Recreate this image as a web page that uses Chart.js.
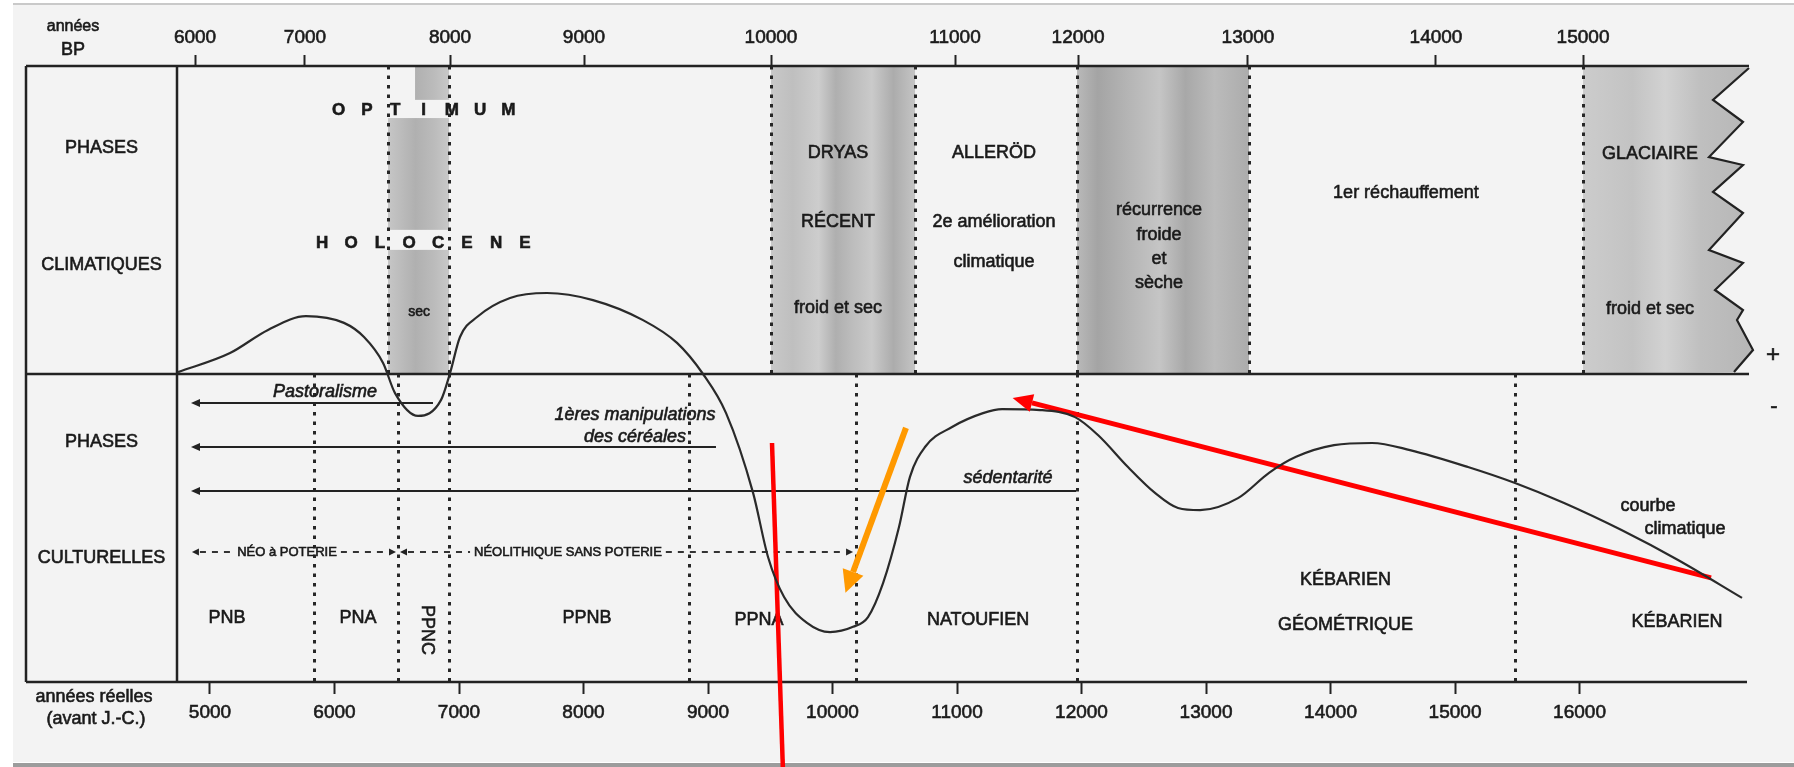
<!DOCTYPE html>
<html><head><meta charset="utf-8">
<script src="https://cdn.jsdelivr.net/npm/chart.js@4.4.1/dist/chart.umd.min.js"></script>
<style>
html,body{margin:0;padding:0;background:#fff;overflow:hidden;}
canvas{display:block;}
</style></head>
<body>
<canvas id="c" width="1794" height="767"></canvas>
<script>
// ---------------- DATA ----------------
// bottom axis: calendar years (avant J.-C.)
const calendarTicks = [5000, 6000, 7000, 8000, 9000, 10000, 11000, 12000, 13000, 14000, 15000, 16000];
// top axis: radiocarbon years BP and the calendar year each tick sits on
const bpTickLabels = ['6000', '7000', '8000', '9000', '10000', '11000', '12000', '13000', '14000', '15000'];
const bpTickCalendar = [4880, 5763, 6928, 8004, 9506, 10984, 11972, 13337, 14847, 16028];

// climatic curve (+ = above the middle line, - = below)
const climateYears = [4743, 5161, 5466, 5771, 6076, 6237, 6390, 6486, 6671, 6856, 6928, 7008, 7145, 7410, 7707, 8076, 8478, 8751, 8960,
  9145, 9362, 9482, 9611, 9795, 9980, 10165, 10285, 10406, 10534, 10622, 10743, 10960, 11209, 11362, 11667, 11948,
  12132, 12373, 12590, 12775, 12952, 13257, 13506, 13723, 14028, 14333, 14638, 15104, 15482, 15876, 16333, 16791, 17305];
const climateValues = [0.06, 0.68, 1.43, 1.88, 1.66, 1.20, 0.36, -0.62, -1.36, -0.84, 0.03, 1.20, 1.85, 2.47, 2.63, 2.40, 1.75, 1.01, 0,
  -1.27, -3.86, -5.94, -7.24, -8.08, -8.38, -8.21, -7.89, -6.79, -4.97, -3.34, -2.37, -1.72, -1.27, -1.14, -1.17, -1.40,
  -1.98, -3.02, -3.86, -4.35, -4.42, -4.03, -3.21, -2.69, -2.31, -2.24, -2.47, -3.02, -3.54, -4.19, -5.06, -6.04, -7.27];

// climatic phase boundaries (upper panel) and cultural boundaries (lower panel)
const climateBoundaries = [6430, 6920, 9506, 10663, 11964, 13345, 16028];
const culturalBoundaries = [5835, 6510, 6920, 8847, 10189, 11964, 15482];

// shaded (cold / dry) climatic phases
const coldPhaseStarts = [9506, 11964, 16028];
const coldPhaseEnds = [10663, 13345, null];
const dryHoloceneStart = 6430;
const dryHoloceneEnd = 6920;

// climatic phase texts
const climatePhaseNames = [['DRYAS', 'RÉCENT', 'froid et sec'], ['ALLERÖD', '2e amélioration', 'climatique'],
  ['récurrence', 'froide', 'et', 'sèche'], ['1er réchauffement'], ['GLACIAIRE', 'froid et sec']];
const climatePhaseCenters = [10044, 11297, 12622, 14606, 16566];

// cultural phases (arrows running back to the present) and their end year
const phaseArrowNames = ['Pastoralisme', '1ères manipulations|des céréales', 'sédentarité'];
const phaseArrowEnds = [6791, 9064, 11956];

// Neolithic with / without pottery
const potteryNames = ['NÉO à POTERIE', 'NÉOLITHIQUE SANS POTERIE'];
const potteryStarts = [4855, 6526];
const potteryEnds = [6494, 10165];
const potteryTextCenters = [5619, 7875];

// cultural periods
const periodNames = ['PNB', 'PNA', 'PPNC', 'PPNB', 'PPNA', 'NATOUFIEN', 'KÉBARIEN|GÉOMÉTRIQUE', 'KÉBARIEN'];
const periodCenters = [5137, 6189, 6743, 8028, 9410, 11169, 14120, 16783];

// later hand-drawn annotations (red and orange strokes)
const redLineYears = [9514, 9601];
const redLineValues = [-2.24, -12.76];
const orangeArrowYears = [10590, 10165];
const orangeArrowValues = [-1.75, -6.43];
const redArrowYears = [17056, 11602];
const redArrowValues = [-6.62, -0.94];

// ---------------- LAYOUT / STYLE ----------------
const FONT = "'Liberation Sans', Arial, Helvetica, sans-serif";
const INK = '#1a1a1a';
const L = {
  frameLeft: 26,
  optimumV: 8.57, holoceneV: 4.25, secV: 2.01,
  climateLinesV: {0: [7.18, 4.94, 2.14], 1: [7.18, 4.94, 3.64], 2: [5.32, 4.51, 3.73, 2.95], 3: [5.88], 4: [7.14, 2.11]},
  arrowV: [-0.94, -2.37, -3.80],
  arrowTextV: [[-0.58], [-1.33, -2.05], [-3.38]],
  arrowTextX: [5924, 8414, 11410],
  potteryV: -5.78,
  periodV: [-7.92, -7.92, -8.31, -7.92, -7.99, -7.99, [-6.69, -8.15], -8.05],
  courbe: [[16550, -4.29, 'courbe'], [16847, -5.03, 'climatique']]
};
const zig = [[2, 2], [-34, 34], [-4, 56], [-38, 91], [-4, 99], [-34, 126], [-4, 147], [-38, 184], [-4, 197], [-32, 224], [-4, 244], [-10, 254], [6, 284], [-13, 306]];
const bandStripes = [
  [[0, '#c8c8c8'], [0.15, '#bfbfbf'], [0.33, '#cdcdcd'], [0.45, '#afafaf'], [0.56, '#bcbcbc'], [0.7, '#cacaca'], [0.85, '#acacac'], [1, '#c4c4c4']],
  [[0, '#b9b9b9'], [0.12, '#a4a4a4'], [0.3, '#b5b5b5'], [0.48, '#c5c5c5'], [0.63, '#a8a8a8'], [0.8, '#bbbbbb'], [1, '#acacac']],
  [[0, '#cccccc'], [0.3, '#c3c3c3'], [0.5, '#d2d2d2'], [0.72, '#bfbfbf'], [1, '#b7b7b7']]
];

function gradient(ctx, x0, x1, stops) {
  const g = ctx.createLinearGradient(x0, 0, x1, 0);
  stops.forEach(s => g.addColorStop(s[0], s[1]));
  return g;
}
function text(ctx, s, x, y, font, align) {
  ctx.font = font; ctx.textAlign = align || 'center'; ctx.textBaseline = 'middle';
  ctx.fillStyle = INK; ctx.strokeStyle = INK; ctx.lineWidth = 0.6; ctx.setLineDash([]);
  ctx.fillText(s, x, y); ctx.strokeText(s, x, y);
}
function head(ctx, x0, y0, x1, y1, len, hw, color) {
  // arrow head with base centred on (x1,y1), pointing away from (x0,y0)
  const a = Math.atan2(y1 - y0, x1 - x0), c = Math.cos(a), s = Math.sin(a);
  ctx.beginPath();
  ctx.moveTo(x1 + c * len, y1 + s * len);
  ctx.lineTo(x1 - s * hw, y1 + c * hw);
  ctx.lineTo(x1 + s * hw, y1 - c * hw);
  ctx.closePath(); ctx.fillStyle = color; ctx.fill();
}

const decor = {
  id: 'decor',
  beforeDraw(chart) {
    const ctx = chart.ctx, W = chart.width, H = chart.height;
    ctx.save();
    ctx.fillStyle = '#ffffff'; ctx.fillRect(0, 0, W, H);
    ctx.fillStyle = '#f3f3f3'; ctx.fillRect(13, 5, W - 13, H - 10);
    ctx.fillStyle = '#c9c9c9'; ctx.fillRect(13, 3, W - 13, 2);
    ctx.fillStyle = '#9c9c9c'; ctx.fillRect(13, H - 4, W - 13, 4);
    ctx.restore();
  },
  beforeDatasetsDraw(chart) {
    const ctx = chart.ctx, a = chart.chartArea, xs = chart.scales.x, ys = chart.scales.y;
    const X = v => xs.getPixelForValue(v), Y = v => ys.getPixelForValue(v);
    const mid = Y(0);
    ctx.save();
    // cold phases shading
    for (let i = 0; i < coldPhaseStarts.length; i++) {
      const x0 = X(coldPhaseStarts[i]);
      if (coldPhaseEnds[i] !== null) {
        const x1 = X(coldPhaseEnds[i]);
        ctx.fillStyle = gradient(ctx, x0, x1, bandStripes[i]);
        ctx.fillRect(x0, a.top, x1 - x0, mid - a.top);
      } else {
        ctx.beginPath(); ctx.moveTo(x0, a.top);
        zig.forEach(p => ctx.lineTo(a.right + p[0], a.top + p[1]));
        ctx.lineTo(x0, mid); ctx.closePath();
        ctx.fillStyle = gradient(ctx, x0, a.right, bandStripes[i]); ctx.fill();
      }
    }
    // dry holocene band (interrupted by the titles)
    const hx0 = X(dryHoloceneStart), hx1 = X(dryHoloceneEnd);
    ctx.fillStyle = gradient(ctx, hx0, hx1, [[0, '#c6c6c6'], [0.45, '#b0b0b0'], [0.75, '#bbbbbb'], [1, '#c8c8c8']]);
    ctx.fillRect(X(6647), a.top, hx1 - X(6647), Y(8.9) - a.top);
    ctx.fillRect(hx0, Y(8.31), hx1 - hx0, Y(4.68) - Y(8.31));
    ctx.fillRect(hx0, Y(4.03), hx1 - hx0, mid - Y(4.03));

    // dotted boundaries
    ctx.strokeStyle = '#262626'; ctx.lineWidth = 3; ctx.setLineDash([3.5, 6]);
    climateBoundaries.forEach(v => { const x = Math.round(X(v)) + 0.5; ctx.beginPath(); ctx.moveTo(x, a.top); ctx.lineTo(x, mid); ctx.stroke(); });
    culturalBoundaries.forEach(v => { const x = Math.round(X(v)) + 0.5; ctx.beginPath(); ctx.moveTo(x, mid); ctx.lineTo(x, a.bottom); ctx.stroke(); });
    ctx.setLineDash([]);

    // frame
    ctx.strokeStyle = '#222'; ctx.lineWidth = 2.5;
    ctx.beginPath();
    ctx.moveTo(L.frameLeft, a.top); ctx.lineTo(a.right + 2, a.top);
    ctx.moveTo(L.frameLeft, mid); ctx.lineTo(a.right + 2, mid);
    ctx.moveTo(L.frameLeft, a.bottom); ctx.lineTo(a.right, a.bottom);
    ctx.moveTo(L.frameLeft, a.top); ctx.lineTo(L.frameLeft, a.bottom);
    ctx.moveTo(a.left, a.top); ctx.lineTo(a.left, a.bottom);
    ctx.stroke();
    // zigzag edge
    ctx.lineWidth = 2.2; ctx.beginPath();
    zig.forEach((p, i) => i ? ctx.lineTo(a.right + p[0], a.top + p[1]) : ctx.moveTo(a.right + p[0], a.top + p[1]));
    ctx.stroke();

    // left column
    const lc = (L.frameLeft + a.left) / 2;
    text(ctx, 'PHASES', lc, 148, '18px ' + FONT);
    text(ctx, 'CLIMATIQUES', lc, 265, '18px ' + FONT);
    text(ctx, 'PHASES', lc, 442, '18px ' + FONT);
    text(ctx, 'CULTURELLES', lc, 558, '18px ' + FONT);
    text(ctx, 'années', 73, 27, '16px ' + FONT);
    text(ctx, 'BP', 73, 50, '18px ' + FONT);
    text(ctx, 'années réelles', 94, 697, '18px ' + FONT);
    text(ctx, '(avant J.-C.)', 96, 719, '18px ' + FONT);

    // holocene titles (letter-spaced)
    const hc = X(6715);
    'OPTIMUM'.split('').forEach((ch, i) => text(ctx, ch, hc + (i - 3) * 28.3, Y(L.optimumV), 'bold 17px ' + FONT));
    'HOLOCENE'.split('').forEach((ch, i) => text(ctx, ch, hc + (i - 3.5) * 29, Y(L.holoceneV), 'bold 17px ' + FONT));
    text(ctx, 'sec', X(6679), Y(L.secV), '14px ' + FONT);

    // climatic phase texts
    climatePhaseNames.forEach((lines, i) => {
      lines.forEach((s, j) => text(ctx, s, X(climatePhaseCenters[i]), Y(L.climateLinesV[i][j]), '18px ' + FONT));
    });

    // cultural arrows
    const ax0 = a.left + 15;
    phaseArrowEnds.forEach((e, i) => {
      const y = Y(L.arrowV[i]);
      ctx.strokeStyle = '#222'; ctx.lineWidth = 2;
      ctx.beginPath(); ctx.moveTo(ax0 + 6, y); ctx.lineTo(X(e), y); ctx.stroke();
      head(ctx, ax0 + 10, y, ax0 + 8, y, 9, 4, '#222');
      phaseArrowNames[i].split('|').forEach((s, j) => text(ctx, s, X(L.arrowTextX[i]), Y(L.arrowTextV[i][j]), 'italic 18px ' + FONT));
    });

    // pottery dashed arrows
    const py = Y(L.potteryV);
    potteryNames.forEach((n, i) => {
      const x0 = X(potteryStarts[i]), x1 = X(potteryEnds[i]), xc = X(potteryTextCenters[i]);
      ctx.font = '13px ' + FONT;
      const w = ctx.measureText(n).width;
      ctx.lineWidth = 1.8; ctx.strokeStyle = '#333';
      ctx.setLineDash([6, 6]);
      ctx.beginPath(); ctx.moveTo(x0 + 8, py); ctx.lineTo(xc - w / 2 - 4, py);
      ctx.moveTo(xc + w / 2 + 4, py); ctx.lineTo(x1 - 8, py); ctx.stroke();
      ctx.setLineDash([]);
      head(ctx, x0 + 10, py, x0 + 7, py, 7, 3.5, '#222');
      head(ctx, x1 - 10, py, x1 - 7, py, 7, 3.5, '#222');
      text(ctx, n, xc, py, '13px ' + FONT);
    });

    // periods
    periodNames.forEach((n, i) => {
      const x = X(periodCenters[i]);
      if (n === 'PPNC') {
        ctx.save(); ctx.translate(x, Y(L.periodV[i])); ctx.rotate(Math.PI / 2);
        text(ctx, n, 0, 0, '18px ' + FONT); ctx.restore();
      } else if (n.includes('|')) {
        n.split('|').forEach((s, j) => text(ctx, s, x, Y(L.periodV[i][j]), '18px ' + FONT));
      } else {
        text(ctx, n, x, Y(L.periodV[i]), '18px ' + FONT);
      }
    });
    L.courbe.forEach(c => text(ctx, c[2], X(c[0]), Y(c[1]), '18px ' + FONT));
    ctx.restore();
  },
  afterDatasetsDraw(chart) {
    const ctx = chart.ctx, a = chart.chartArea, xs = chart.scales.x, ys = chart.scales.y;
    const X = v => xs.getPixelForValue(v), Y = v => ys.getPixelForValue(v);
    ctx.save();
    head(ctx, X(orangeArrowYears[0]), Y(orangeArrowValues[0]), X(orangeArrowYears[1]), Y(orangeArrowValues[1]), 22, 11, '#ff9900');
    head(ctx, X(redArrowYears[0]), Y(redArrowValues[0]), X(redArrowYears[1]), Y(redArrowValues[1]), 20, 9, '#ff0000');
    text(ctx, '+', a.right + 26, Y(0) - 19, '24px ' + FONT);
    text(ctx, '-', a.right + 27, Y(0) + 33, '22px ' + FONT);
    ctx.restore();
  }
};

const pts = (xs, ys) => xs.map((x, i) => ({x: x, y: ys[i]}));
const tickFont = {family: FONT, size: 19};

new Chart(document.getElementById('c'), {
  type: 'line',
  data: {
    datasets: [
      {label: 'courbe climatique', data: pts(climateYears, climateValues), borderColor: '#2a2a2a', borderWidth: 2.2,
        cubicInterpolationMode: 'monotone', pointRadius: 0, fill: false},
      {label: 'red', data: pts(redLineYears, redLineValues), borderColor: '#ff0000', borderWidth: 4.5, pointRadius: 0, clip: false},
      {label: 'orange', data: pts(orangeArrowYears, orangeArrowValues), borderColor: '#ff9900', borderWidth: 6, pointRadius: 0, clip: false},
      {label: 'red arrow', data: pts(redArrowYears, redArrowValues), borderColor: '#ff0000', borderWidth: 5, pointRadius: 0, clip: false}
    ]
  },
  options: {
    responsive: false, animation: false, devicePixelRatio: 1,
    layout: {padding: {left: 177, right: 47, top: 0, bottom: 0}},
    plugins: {legend: {display: false}, tooltip: {enabled: false}},
    scales: {
      x: {
        type: 'linear', position: 'bottom', min: 4735, max: 17345,
        afterBuildTicks: s => { s.ticks = calendarTicks.map(v => ({value: v})); },
        afterFit: s => { s.height = 85; },
        ticks: {autoSkip: false, maxRotation: 0, minRotation: 0, padding: 7, color: '#1a1a1a', font: tickFont,
          textStrokeColor: '#1a1a1a', textStrokeWidth: 0.6, callback: v => String(v)},
        grid: {drawOnChartArea: false, drawTicks: true, tickLength: 12, tickColor: '#222', tickWidth: 2},
        border: {display: false}
      },
      x2: {
        type: 'linear', position: 'top', min: 4735, max: 17345,
        afterBuildTicks: s => { s.ticks = bpTickCalendar.map(v => ({value: v})); },
        afterFit: s => { s.height = 66; },
        ticks: {autoSkip: false, maxRotation: 0, minRotation: 0, padding: 6, color: '#1a1a1a', font: tickFont,
          textStrokeColor: '#1a1a1a', textStrokeWidth: 0.6, callback: (v, i) => bpTickLabels[i]},
        grid: {drawOnChartArea: false, drawTicks: true, tickLength: 11, tickColor: '#222', tickWidth: 2},
        border: {display: false}
      },
      y: {type: 'linear', min: -10, max: 10, display: false}
    }
  },
  plugins: [decor]
});
</script>
</body></html>
